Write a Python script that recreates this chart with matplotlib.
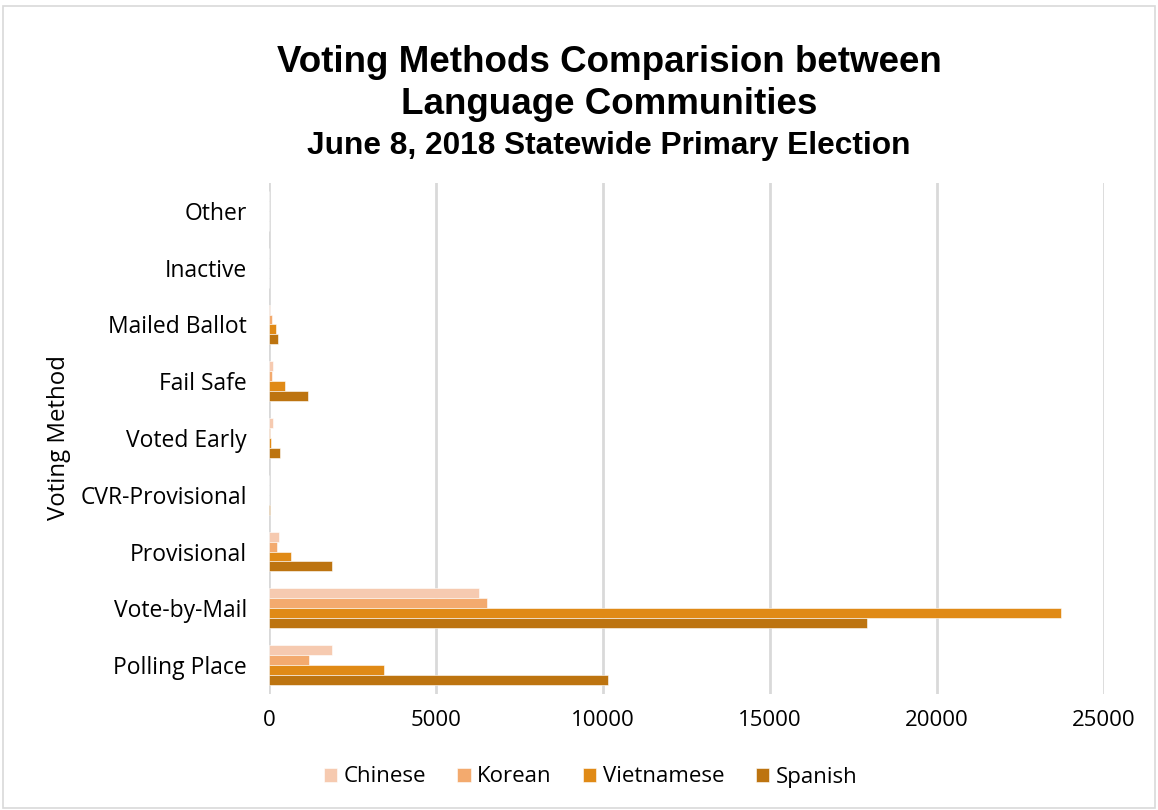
import matplotlib
matplotlib.use("Agg")
import matplotlib.pyplot as plt
from matplotlib.patches import Rectangle
import numpy as np

# Voting methods, listed bottom to top on the chart
methods = ["Polling Place", "Vote-by-Mail", "Provisional", "CVR-Provisional",
           "Voted Early", "Fail Safe", "Mailed Ballot", "Inactive", "Other"]

chinese    = [1890, 6290, 300, 0, 120, 120, 30, 0, 0]
korean     = [1210, 6540, 240, 0, 30, 90, 90, 0, 0]
vietnamese = [3440, 23710, 660, 0, 60, 480, 210, 0, 0]
spanish    = [10150, 17900, 1890, 40, 330, 1170, 270, 0, 0]

series_names = ["Chinese", "Korean", "Vietnamese", "Spanish"]
series_colors = ["#F6CAB0", "#F3AA6E", "#E08A16", "#BD7410"]
series_values = [chinese, korean, vietnamese, spanish]

xticks = [0, 5000, 10000, 15000, 20000, 25000]

label_font = "Open Sans"
title_font = "Liberation Sans"

fig = plt.figure(figsize=(11.58, 8.10), dpi=100)
ax = fig.add_axes([269 / 1158, 1 - 693.5 / 810, (1104 - 269) / 1158, (693.5 - 182.5) / 810])

y = np.arange(len(methods))
h = 0.175
offsets = [1.5 * h, 0.5 * h, -0.5 * h, -1.5 * h]
for name, vals, col, off in zip(series_names, series_values, series_colors, offsets):
    ax.barh(y + off, vals, height=h, color=col, edgecolor="white",
            linewidth=0.4, label=name, zorder=3)

ax.set_xlim(0, 25000)
ax.set_ylim(-0.5, len(methods) - 0.5)
ax.set_yticks(y)
ax.set_yticklabels(methods, fontfamily=label_font, fontsize=16.5)
ax.set_xticks(xticks)
ax.set_xticklabels([str(t) for t in xticks], fontfamily=label_font, fontsize=16)
ax.tick_params(axis="y", length=0, pad=16)
ax.tick_params(axis="x", length=0, pad=12)
ax.grid(axis="x", color="#D9D9D9", linewidth=2, zorder=0)
ax.set_axisbelow(True)
for s in ax.spines.values():
    s.set_visible(False)

ax.set_ylabel("Voting Method", fontfamily=label_font, fontsize=17.3)
ax.yaxis.set_label_coords(-(269 - 71) / 835, 0.5)

fig.text(0.526, 1 - 62 / 810, "Voting Methods Comparision between",
         ha="center", va="center", fontfamily=title_font, fontweight="bold", fontsize=26.5)
fig.text(0.526, 1 - 104 / 810, "Language Communities",
         ha="center", va="center", fontfamily=title_font, fontweight="bold", fontsize=26.5)
fig.text(0.526, 1 - 146 / 810, "June 8, 2018 Statewide Primary Election",
         ha="center", va="center", fontfamily=title_font, fontweight="bold", fontsize=22.8)

leg = fig.legend(loc="center", bbox_to_anchor=(0.51, 1 - 777 / 810), ncol=4,
                 frameon=False, prop={"family": label_font, "size": 16},
                 handlelength=0.6, handleheight=0.6, handletextpad=0.3,
                 columnspacing=1.4)

fig.patches.append(Rectangle((3 / 1158, 2 / 810), 1152 / 1158, 802 / 810,
                             transform=fig.transFigure, fill=False,
                             edgecolor="#D9D9D9", linewidth=1.2))

fig.savefig("out.png", dpi=100)
